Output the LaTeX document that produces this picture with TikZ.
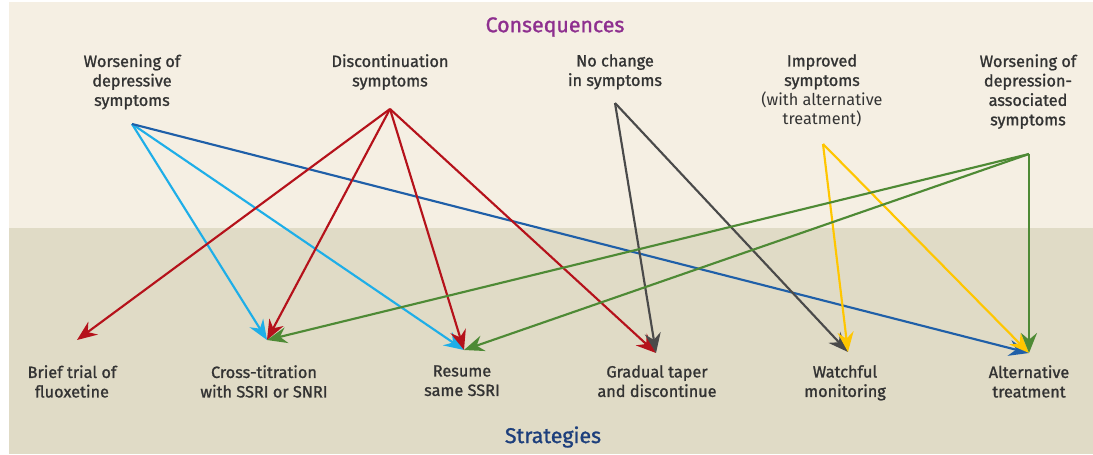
\documentclass[tikz,border=0pt]{standalone}
\usepackage{fontspec}
\setmainfont{Fira Sans}[FakeBold=1.2]
\newfontfamily\thinfont{Fira Sans}
\usetikzlibrary{arrows.meta}
\definecolor{topBg}{HTML}{F5EFE3}
\definecolor{botBg}{HTML}{E0DBC6}
\definecolor{titlePurple}{HTML}{8E2F8F}
\definecolor{titleBlue}{HTML}{1D3F7C}
\definecolor{labelGray}{HTML}{333333}
\definecolor{lightBlue}{HTML}{1EAEE8}
\definecolor{darkBlue}{HTML}{1F5FA8}
\definecolor{discRed}{HTML}{B5121B}
\definecolor{noGray}{HTML}{4A4A4A}
\definecolor{impYellow}{HTML}{FFC600}
\definecolor{assocGreen}{HTML}{4E8A35}
\tikzset{
    heading/.style={font=\fontsize{16}{18}\selectfont, inner sep=0pt},
    consequence/.style={align=center, anchor=north, inner sep=0pt, text=labelGray,
        font=\fontsize{12.2}{14.6}\selectfont},
    strategy/.style={consequence},
    link/.style={line width=1.6pt, -{Stealth[length=15pt,width=12pt,inset=5pt]}}
}

\begin{document}
\begin{tikzpicture}[x=0.75pt,y=-0.75pt]
    \useasboundingbox (0,0) rectangle (1093,454);
    \fill[topBg] (9,2) rectangle (1093,228);
    \fill[botBg] (9,228) rectangle (1093,454);

    \node[heading, text=titlePurple] (conseq) at (555,27) {Consequences};
    \node[heading, text=titleBlue] (strat) at (553,437) {Strategies};

    % consequences
    \node[consequence] (worsDep) at (132,54) {Worsening of\\depressive\\symptoms};
    \node[consequence] (discont) at (390,54) {Discontinuation\\symptoms};
    \node[consequence] (noChange) at (615,54) {No change\\in symptoms};
    \node[consequence] (improved) at (822,54) {Improved\\symptoms\\{\thinfont(with alternative}\\{\thinfont treatment)}};
    \node[consequence] (worsAssoc) at (1028,54) {Worsening of\\depression-\\associated\\symptoms};

    % strategies
    \node[strategy] (brief) at (72,365) {Brief trial of\\fluoxetine};
    \node[strategy] (cross) at (264,365) {Cross-titration\\with SSRI or SNRI};
    \node[strategy] (resume) at (462,365) {Resume\\same SSRI};
    \node[strategy] (taper) at (657,365) {Gradual taper\\and discontinue};
    \node[strategy] (watch) at (845,365) {Watchful\\monitoring};
    \node[strategy] (altern) at (1029,365) {Alternative\\treatment};

    % arrow ends
    \coordinate (wd) at (132,124);
    \coordinate (ds) at (390,109);
    \coordinate (nc) at (615,103);
    \coordinate (im) at (823,144);
    \coordinate (wa) at (1029,154);
    \coordinate (bt) at (77,340);
    \coordinate (ct) at (267,340);
    \coordinate (rs) at (464,350);
    \coordinate (gt) at (656,353);
    \coordinate (wm) at (848,352);
    \coordinate (at) at (1029,353);

    \draw[link, lightBlue] (wd) -- (ct);
    \draw[link, lightBlue] (wd) -- (rs);
    \draw[link, darkBlue] (wd) -- (at);
    \foreach \t in {bt,ct,rs,gt}
        \draw[link, discRed] (ds) -- (\t);
    \draw[link, noGray] (nc) -- (gt);
    \draw[link, noGray] (nc) -- (wm);
    \draw[link, impYellow] (im) -- (wm);
    \draw[link, impYellow] (im) -- (at);
    \foreach \t in {ct,rs,at}
        \draw[link, assocGreen] (wa) -- (\t);
\end{tikzpicture}
\end{document}
